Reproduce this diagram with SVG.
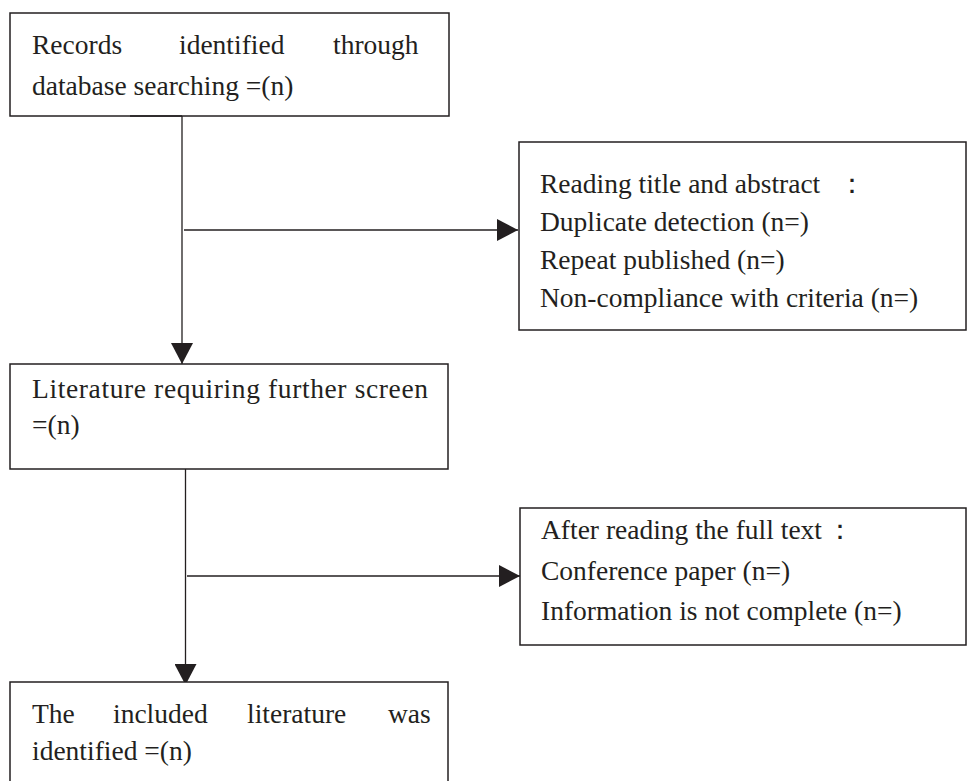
<svg xmlns="http://www.w3.org/2000/svg" width="967" height="781" viewBox="0 0 967 781">
<defs>
<style>
.box{fill:#fff;stroke:#231f20;stroke-width:1.5}
.ln{fill:none;stroke:#231f20;stroke-width:1.3}
text{font-family:"Liberation Serif","Times New Roman",serif;font-size:27.5px;fill:#231f20}
</style>
<marker id="ah" markerUnits="userSpaceOnUse" markerWidth="22" markerHeight="22" viewBox="0 0 22 22" refX="21" refY="11" orient="auto">
<path d="M0,0 L21,11 L0,22 Z" fill="#231f20"/>
</marker>
</defs>
<rect width="967" height="781" fill="#fff"/>
<g id="connectors">
<line class="ln" x1="182" y1="116" x2="182" y2="364" marker-end="url(#ah)"/>
<line class="ln" x1="184" y1="230" x2="518" y2="230" marker-end="url(#ah)"/>
<line class="ln" x1="185.5" y1="469" x2="185.5" y2="685" marker-end="url(#ah)"/>
<line class="ln" x1="187" y1="576" x2="520" y2="576" marker-end="url(#ah)"/>
</g>
<g id="n1">
<rect class="box" x="10" y="13" width="439" height="103"/>
<line class="ln" x1="130" y1="116" x2="182" y2="116" stroke-width="2"/>
<text y="54"><tspan x="32">Records</tspan><tspan x="179">identified</tspan><tspan x="333">through</tspan></text>
<text x="32" y="95">database searching =(n)</text>
</g>
<g id="n2">
<rect class="box" x="519" y="142" width="447" height="188"/>
<text x="540" y="193">Reading title and abstract<tspan x="838">：</tspan></text>
<text x="540" y="231">Duplicate detection (n=)</text>
<text x="540" y="269">Repeat published (n=)</text>
<text x="540" y="307">Non-compliance with criteria (n=)</text>
</g>
<g id="n3">
<rect class="box" x="10" y="364" width="438" height="105"/>
<text x="32" y="398" textLength="396" lengthAdjust="spacing">Literature requiring further screen</text>
<text x="32" y="434">=(n)</text>
</g>
<g id="n4">
<rect class="box" x="520" y="508" width="446" height="137"/>
<text x="541" y="539">After reading the full text<tspan dx="4">：</tspan></text>
<text x="541" y="580">Conference paper (n=)</text>
<text x="541" y="620">Information is not complete (n=)</text>
</g>
<g id="n5">
<rect class="box" x="10" y="682" width="438" height="120"/>
<text y="723"><tspan x="32">The</tspan><tspan x="113">included</tspan><tspan x="247">literature</tspan><tspan x="388">was</tspan></text>
<text x="32" y="760">identified =(n)</text>
</g>
</svg>
